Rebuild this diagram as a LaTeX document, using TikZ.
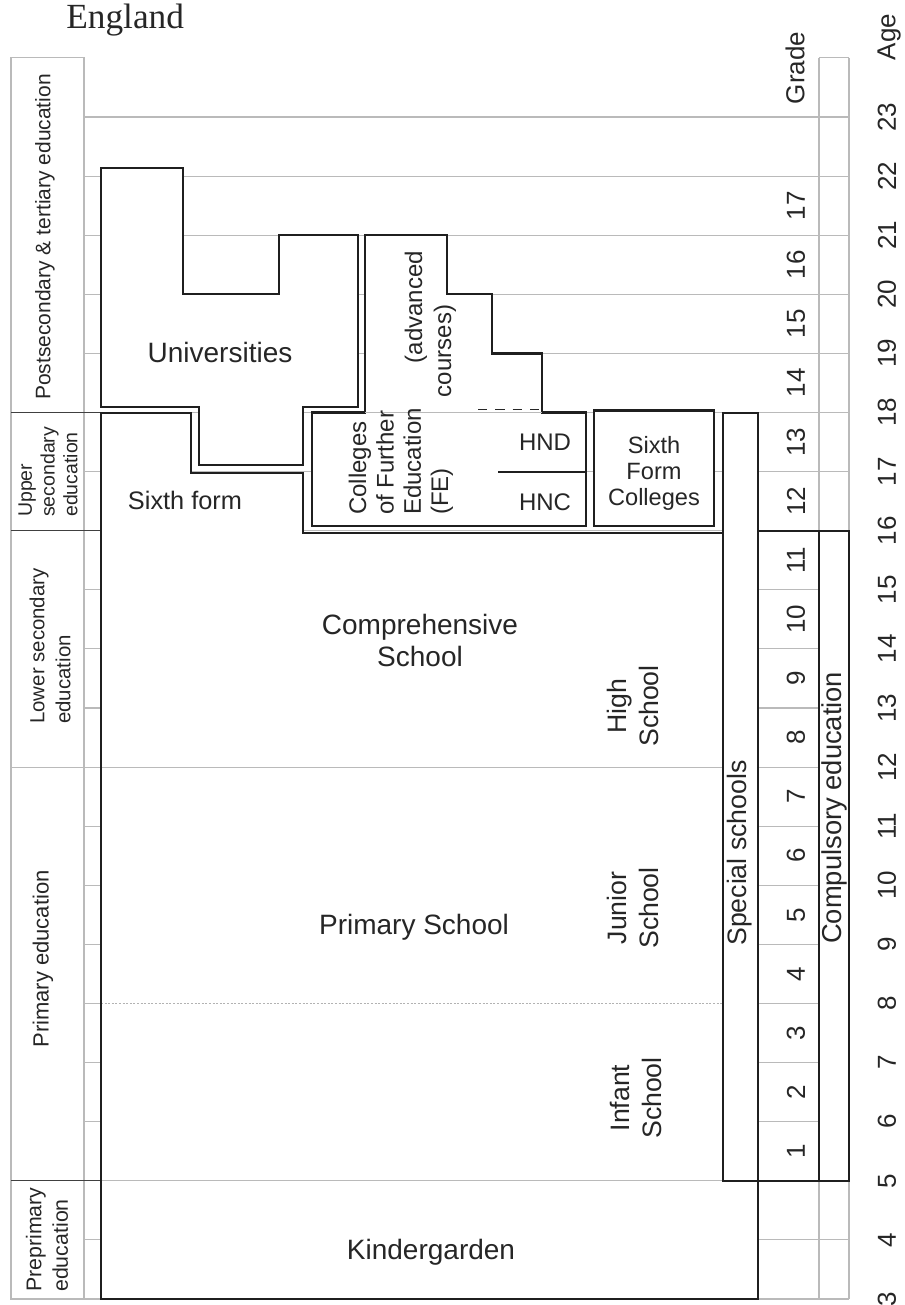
\documentclass[tikz,border=0pt]{standalone}
\usepackage{fontspec}
\setmainfont{Liberation Sans}
\newfontfamily\titlefont{Liberation Serif}
\begin{document}
\begin{tikzpicture}[x=0.75pt,y=-0.75pt,
  declare function={agey(\a)=1299-(\a-3)*59.1;},
  grid/.style={draw=black!27, line width=0.8pt},
  divider/.style={draw=black!75, line width=0.9pt},
  heavy/.style={draw=black!88, line width=1.65pt, line join=miter},
  box/.style={heavy, fill=white},
  txt/.style={inner sep=0pt, text=black!85},
  big/.style={txt, font=\fontsize{21}{24}\selectfont},
  mid/.style={txt, font=\fontsize{20}{24}\selectfont},
  small/.style={txt, font=\fontsize{18}{20.5}\selectfont},
  side/.style={txt, font=\fontsize{15.75}{19}\selectfont},
  num/.style={txt, font=\fontsize{19.5}{22}\selectfont, rotate=90},
]
\path[use as bounding box] (0,0) rectangle (904,1305);

% age grid lines
\foreach \a in {3,...,23}
  \draw[grid] (84,{agey(\a)}) -- (849,{agey(\a)});

% level column and compulsory column frames
\draw[grid] (11,{agey(24)}) rectangle (84,1299);
\draw[grid] (819,{agey(24)}) -- (849,{agey(24)});
\draw[grid] (819,{agey(24)}) -- (819,1299);
\draw[grid] (849,{agey(24)}) -- (849,1299);

% level dividers
\draw[divider] (11,{agey(18)}) -- (101,{agey(18)});
\draw[divider] (11,{agey(16)}) -- (101,{agey(16)});
\draw[grid]    (11,{agey(12)}) -- (101,{agey(12)});
\draw[divider] (11,{agey(5)}) -- (101,{agey(5)});

% universities
\draw[box] (101,168) -- (183,168) -- (183,294.3) -- (279,294.3) -- (279,235.2)
  -- (358,235.2) -- (358,407) -- (303,407) -- (303,465) -- (199,465)
  -- (199,407) -- (101,407) -- cycle;

% further education colleges with advanced courses
\draw[box] (312,412.5) -- (365,412.5) -- (365,235.2) -- (447,235.2) -- (447,294.3)
  -- (492,294.3) -- (492,353.4) -- (542,353.4) -- (542,412.5) -- (586,412.5)
  -- (586,526) -- (312,526) -- cycle;
\draw[grid] (365,412.5) -- (542,412.5);
\draw[draw=black!85, line width=1.4pt, dash pattern=on 7pt off 6pt] (478,409.5) -- (540,409.5);
\draw[heavy] (498,471.6) -- (586,471.6);

% sixth form colleges
\draw[box] (594,410.5) rectangle (714,526);

% schools of the main track
\fill[white] (101,413) -- (191,413) -- (191,473) -- (303,473) -- (303,533)
  -- (723,533) -- (723,1180.8) -- (758,1180.8) -- (758,1299) -- (101,1299) -- cycle;
\draw[grid] (101,{agey(12)}) -- (723,{agey(12)});
\draw[grid] (101,{agey(5)}) -- (723,{agey(5)});
\draw[draw=black!30, line width=0.6pt, dash pattern=on 1.5pt off 1.2pt] (101,{agey(8)}) -- (723,{agey(8)});
\draw[heavy] (758,1180.8) -- (758,1299) -- (101,1299) -- (101,413) -- (191,413)
  -- (191,473) -- (303,473) -- (303,533) -- (723,533);

% special schools, grades and compulsory education
\draw[box] (723,413) rectangle (758,1180.8);
\draw[heavy] (758,530.7) rectangle (819,1180.8);
\draw[box] (819,530.7) rectangle (849,1180.8);

% title
\node[anchor=base west, inner sep=0pt, font=\titlefont\fontsize{26.5}{30}\selectfont, text=black!85] (title) at (66,29) {England};

% level labels
\node[side, rotate=90] (lvpost) at (45,237) {Postsecondary \& tertiary education};
\node[txt, font=\fontsize{14.6}{17}\selectfont, rotate=90, align=left, anchor=west] (lvupper) at (48,517) {Upper\\secondary\\education};
\node[txt, font=\fontsize{15.3}{19.5}\selectfont, rotate=90, align=left, anchor=west] (lvlower) at (50,724) {Lower secondary\\education};
\node[txt, font=\fontsize{16.5}{19}\selectfont, rotate=90] (lvprim) at (43,959) {Primary education};
\node[txt, font=\fontsize{16}{20}\selectfont, rotate=90, align=left, anchor=west] (lvpre) at (47,1292) {Preprimary\\education};

% institution labels
\node[big] (univ) at (220,352) {Universities};
\node[txt, font=\fontsize{19}{22}\selectfont] (sixth) at (185,500) {Sixth form};
\node[small, rotate=90, align=left, anchor=west] (fe) at (401,515) {Colleges\\of Further\\Education\\(FE)};
\node[small, rotate=90] (adva) at (416,307) {(advanced};
\node[small, rotate=90] (advb) at (445,351) {courses)};
\node[small] (hnd) at (545,442) {HND};
\node[small] (hnc) at (545,502) {HNC};
\node[txt, font=\fontsize{17.7}{19.5}\selectfont, align=center] (sfc) at (654,473) {Sixth\\Form\\Colleges};
\node[big, align=center] (comp) at (420,640) {Comprehensive\\School};
\node[big] (prim) at (414,927) {Primary School};
\node[big] (kind) at (431,1252) {Kindergarden};
\node[mid, rotate=90, align=center] (high) at (633,706) {High\\School};
\node[mid, rotate=90, align=center] (junior) at (633,908) {Junior\\School};
\node[mid, rotate=90, align=center] (infant) at (636,1098) {Infant\\School};
\node[mid, rotate=90, anchor=west] (special) at (740,946) {Special schools};
\node[txt, font=\fontsize{20.5}{24}\selectfont, rotate=90, anchor=west] (compulsory) at (834,944) {Compulsory education};

% grade and age scales
\node[num] (gradehead) at (795,68) {Grade};
\node[num] (agehead) at (889,37) {Age};
\foreach \g in {1,...,17}
  \node[num] (grade\g) at (796,{1299-(\g+1.5)*59.1}) {\g};
\foreach \a in {3,...,23}
  \node[num] (age\a) at (887,{agey(\a)}) {\a};
\end{tikzpicture}
\end{document}
